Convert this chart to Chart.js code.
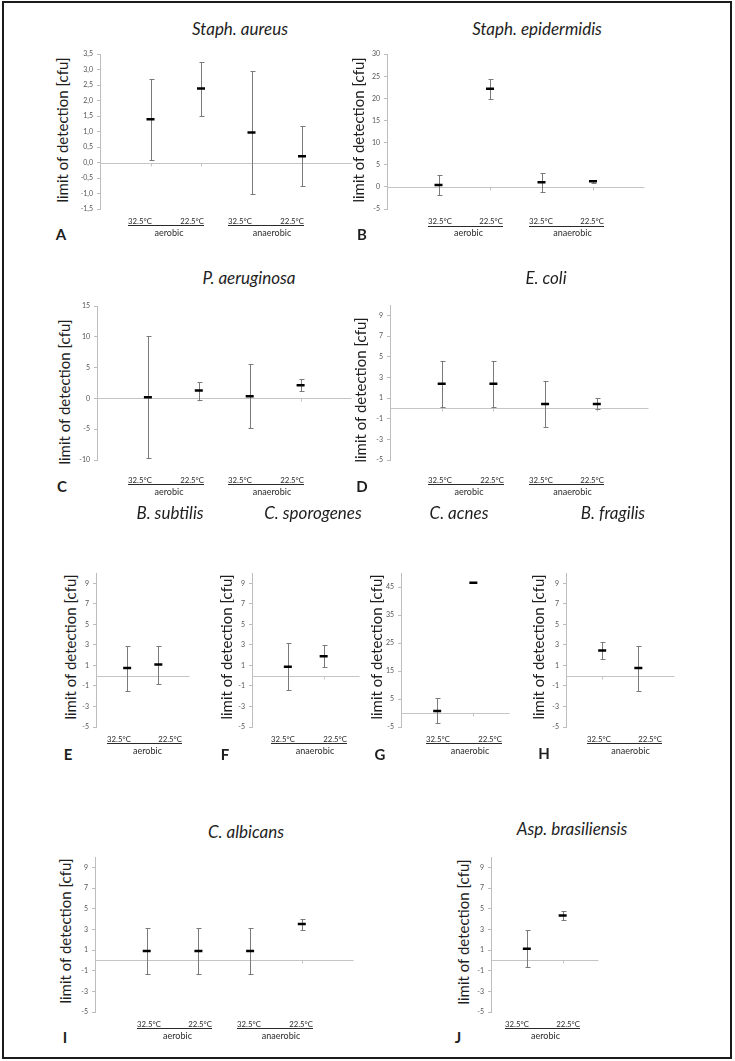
<!DOCTYPE html>
<html>
<head>
<meta charset="utf-8">
<script src="https://cdn.jsdelivr.net/npm/chart.js@4.4.1/dist/chart.umd.min.js"></script>
<style>
  body { margin: 0; background: #fff; }
  #page { position: relative; width: 735px; height: 1061px; background: #fff; overflow: hidden; font-family: Lato, sans-serif; }
  #frame { position: absolute; left: 2px; top: 1px; width: 730px; height: 1058px; border: 2px solid #1b1b1b; box-sizing: border-box; }
  .txt { position: absolute; white-space: nowrap; line-height: 1; transform: translate(-50%, -50%); color: #1e1e1e; }
  .title { font-size: 17px; font-style: italic; }
  .ylab { font-size: 15px; transform: translate(-50%, -50%) rotate(-90deg); }
  .letter { font-size: 15px; font-weight: bold; }
  canvas { position: absolute; }
</style>
</head>
<body>
<div id="page"><div id="frame"></div></div>
<script>
// temperatures and groups
const temps = ['32.5°C', '22.5°C'];

// tick values
const ticksA = [-1.5, -1, -0.5, 0, 0.5, 1, 1.5, 2, 2.5, 3, 3.5];
const ticksB = [-5, 0, 5, 10, 15, 20, 25, 30];
const ticksC = [-10, -5, 0, 5, 10, 15];
const ticksOdd = [-5, -3, -1, 1, 3, 5, 7, 9];
const ticksG = [-5, 5, 15, 25, 35, 45];

// A - Staph. aureus
const aureusMean = [1.4, 2.39, 0.97, 0.2];
const aureusHigh = [2.69, 3.25, 2.97, 1.17];
const aureusLow = [0.08, 1.52, -1.02, -0.75];
// B - Staph. epidermidis
const epiMean = [0.45, 22.2, 1.05, 1.25];
const epiHigh = [2.7, 24.5, 3.25, 1.65];
const epiLow = [-1.8, 19.9, -1.2, 0.9];
// C - P. aeruginosa
const aeruMean = [0.22, 1.3, 0.38, 2.16];
const aeruHigh = [10.15, 2.75, 5.56, 3.13];
const aeruLow = [-9.72, -0.27, -4.8, 1.24];
// D - E. coli
const coliMean = [2.38, 2.38, 0.42, 0.42];
const coliHigh = [4.63, 4.63, 2.67, 1.0];
const coliLow = [0.16, 0.16, -1.8, -0.1];
// E - B. subtilis
const subtMean = [0.75, 1.1];
const subtHigh = [2.92, 2.92];
const subtLow = [-1.52, -0.78];
// F - C. sporogenes
const sporMean = [0.87, 1.91];
const sporHigh = [3.2, 2.98];
const sporLow = [-1.39, 0.81];
// G - C. acnes
const acnesMean = [0.7, 46.6];
const acnesHigh = [5.36, 46.6];
const acnesLow = [-3.7, 46.6];
// H - B. fragilis
const fragMean = [2.46, 0.75];
const fragHigh = [3.3, 2.88];
const fragLow = [1.62, -1.49];
// I - C. albicans
const albiMean = [0.92, 0.92, 0.92, 3.52];
const albiHigh = [3.14, 3.14, 3.14, 4.04];
const albiLow = [-1.34, -1.34, -1.34, 2.95];
// J - Asp. brasiliensis
const aspMean = [1.14, 4.35];
const aspHigh = [2.95, 4.8];
const aspLow = [-0.63, 3.9];

Chart.defaults.font.family = 'Lato, sans-serif';

const page = document.getElementById('page');
const Y_W = 30, PAD_T = 8, PAD_R = 6, X_H = 45;

function addText(text, cls, cx, cy) {
  const d = document.createElement('div');
  d.className = 'txt ' + cls;
  d.textContent = text;
  d.style.left = cx + 'px';
  d.style.top = cy + 'px';
  page.appendChild(d);
}

function makePanel(p) {
  addText(p.title, 'title', p.titleX, p.titleY);
  addText('limit of detection [cfu]', 'ylab', p.ylabX, p.ylabY);
  addText(p.letter, 'letter', p.letterX, p.letterY);

  const left = p.axisX - Y_W;
  const top = p.top - PAD_T;
  const width = p.right - left + PAD_R;
  const height = p.bottom - top + X_H;
  const canvas = document.createElement('canvas');
  canvas.width = width;
  canvas.height = height;
  canvas.style.left = left + 'px';
  canvas.style.top = top + 'px';
  page.appendChild(canvas);

  const decor = {
    id: 'decor' + p.letter,
    beforeDatasetsDraw(chart) {
      const { ctx, chartArea: a, scales: { x, y } } = chart;
      const y0 = Math.round(y.getPixelForValue(0)) + 0.5;
      ctx.save();
      ctx.lineWidth = 1;
      ctx.strokeStyle = '#c4c4c4';
      ctx.beginPath();
      ctx.moveTo(a.left, y0);
      ctx.lineTo(a.right, y0);
      p.mean.forEach((m, i) => {
        const px = Math.round(x.getPixelForValue(i + 1)) + 0.5;
        ctx.moveTo(px, y0);
        ctx.lineTo(px, y0 + 3);
      });
      ctx.stroke();
      // error bars
      ctx.strokeStyle = '#7a7a7a';
      ctx.beginPath();
      p.mean.forEach((m, i) => {
        if (p.high[i] === p.low[i]) return;
        const px = Math.round(x.getPixelForValue(i + 1)) + 0.5;
        const hi = Math.round(y.getPixelForValue(p.high[i])) + 0.5;
        const lo = Math.round(y.getPixelForValue(p.low[i])) + 0.5;
        ctx.moveTo(px, hi); ctx.lineTo(px, lo);
        ctx.moveTo(px - 2, hi); ctx.lineTo(px + 3, hi);
        ctx.moveTo(px - 2, lo); ctx.lineTo(px + 3, lo);
      });
      ctx.stroke();
      ctx.restore();
    },
    afterDraw(chart) {
      const { ctx, chartArea: a } = chart;
      const ly = a.bottom + p.labelDy;
      ctx.save();
      ctx.fillStyle = '#2a2a2a';
      ctx.strokeStyle = '#2a2a2a';
      ctx.lineWidth = 1;
      ctx.textBaseline = 'middle';
      p.groups.forEach(g => {
        const x1 = g.from - left, x2 = g.to - left;
        ctx.font = '7.8px Lato, sans-serif';
        ctx.textAlign = 'left';
        ctx.fillText(temps[0], x1, ly);
        ctx.textAlign = 'right';
        ctx.fillText(temps[1], x2, ly);
        ctx.beginPath();
        ctx.moveTo(x1, Math.round(ly + 4) + 0.5);
        ctx.lineTo(x2, Math.round(ly + 4) + 0.5);
        ctx.stroke();
        ctx.font = '9px Lato, sans-serif';
        ctx.textAlign = 'center';
        ctx.fillText(g.name, (x1 + x2) / 2 + g.dx, ly + 12);
      });
      ctx.restore();
    }
  };

  new Chart(canvas, {
    type: 'scatter',
    data: {
      datasets: [{
        data: p.mean.map((m, i) => ({ x: i + 1, y: m })),
        pointStyle: 'line',
        pointRadius: 4,
        borderWidth: 2.5,
        borderColor: '#000',
        backgroundColor: '#000'
      }]
    },
    options: {
      responsive: false,
      animation: false,
      events: [],
      layout: { padding: { top: PAD_T, right: PAD_R, left: 0, bottom: 0 } },
      plugins: { legend: { display: false }, tooltip: { enabled: false } },
      scales: {
        x: {
          type: 'linear', min: 0, max: p.slots,
          grid: { display: false }, border: { display: false },
          ticks: { display: false },
          afterFit: s => { s.height = X_H; }
        },
        y: {
          min: p.min, max: p.max,
          afterBuildTicks: s => { s.ticks = p.ticks.map(v => ({ value: v })); },
          afterFit: s => { s.width = Y_W; },
          grid: { drawOnChartArea: false, tickLength: 3, color: '#bdbdbd' },
          border: { color: '#bdbdbd', width: 1 },
          ticks: {
            padding: 4, color: '#555', font: { size: 7 },
            callback: v => p.comma ? v.toFixed(1).replace('.', ',') : String(v)
          }
        }
      }
    },
    plugins: [decor]
  });
}

const aer = (from, to) => ({ name: 'aerobic', from, to, dx: 3 });
const ana = (from, to) => ({ name: 'anaerobic', from, to, dx: 6 });

makePanel({ letter: 'A', title: 'Staph. aureus', titleX: 240, titleY: 28, ylabX: 62, ylabY: 130, letterX: 61, letterY: 234,
  axisX: 100, top: 54, bottom: 209, right: 353, slots: 5, min: -1.5, max: 3.5, ticks: ticksA, comma: true, labelDy: 12,
  mean: aureusMean, high: aureusHigh, low: aureusLow, groups: [aer(128, 204), ana(228, 304)] });

makePanel({ letter: 'B', title: 'Staph. epidermidis', titleX: 537, titleY: 28, ylabX: 358, ylabY: 130, letterX: 362, letterY: 234,
  axisX: 387, top: 54, bottom: 209, right: 645, slots: 5, min: -5, max: 30, ticks: ticksB, labelDy: 12.5,
  mean: epiMean, high: epiHigh, low: epiLow, groups: [aer(428, 503), ana(529, 604)] });

makePanel({ letter: 'C', title: 'P. aeruginosa', titleX: 249, titleY: 277, ylabX: 64, ylabY: 392, letterX: 62, letterY: 486,
  axisX: 97, top: 306, bottom: 460, right: 352, slots: 5, min: -10, max: 15, ticks: ticksC, labelDy: 20,
  mean: aeruMean, high: aeruHigh, low: aeruLow, groups: [aer(128, 204), ana(228, 304)] });

makePanel({ letter: 'D', title: 'E. coli', titleX: 546, titleY: 277, ylabX: 360, ylabY: 390, letterX: 362, letterY: 486,
  axisX: 390, top: 305, bottom: 460, right: 649, slots: 5, min: -5, max: 10, ticks: ticksOdd, labelDy: 20,
  mean: coliMean, high: coliHigh, low: coliLow, groups: [aer(428, 504), ana(529, 604)] });

makePanel({ letter: 'E', title: 'B. subtilis', titleX: 170, titleY: 512, ylabX: 70, ylabY: 647, letterX: 68, letterY: 754,
  axisX: 96, top: 573, bottom: 727, right: 190, slots: 3, min: -5, max: 10, ticks: ticksOdd, labelDy: 12,
  mean: subtMean, high: subtHigh, low: subtLow, groups: [aer(107, 182)] });

makePanel({ letter: 'F', title: 'C. sporogenes', titleX: 313, titleY: 512, ylabX: 226, ylabY: 647, letterX: 225, letterY: 754,
  axisX: 252, top: 573, bottom: 727, right: 360, slots: 3, min: -5, max: 10, ticks: ticksOdd, labelDy: 12,
  mean: sporMean, high: sporHigh, low: sporLow, groups: [ana(271, 347)] });

makePanel({ letter: 'G', title: 'C. acnes', titleX: 459, titleY: 512, ylabX: 376, ylabY: 647, letterX: 380, letterY: 754,
  axisX: 401, top: 573, bottom: 727, right: 510, slots: 3, min: -5, max: 50, ticks: ticksG, labelDy: 12,
  mean: acnesMean, high: acnesHigh, low: acnesLow, groups: [ana(426, 502)] });

makePanel({ letter: 'H', title: 'B. fragilis', titleX: 613, titleY: 512, ylabX: 538, ylabY: 647, letterX: 544, letterY: 753,
  axisX: 566, top: 573, bottom: 727, right: 675, slots: 3, min: -5, max: 10, ticks: ticksOdd, labelDy: 12,
  mean: fragMean, high: fragHigh, low: fragLow, groups: [ana(587, 662)] });

makePanel({ letter: 'I', title: 'C. albicans', titleX: 246, titleY: 831, ylabX: 65, ylabY: 931, letterX: 65, letterY: 1037,
  axisX: 95, top: 857, bottom: 1012, right: 354, slots: 5, min: -5, max: 10, ticks: ticksOdd, labelDy: 12,
  mean: albiMean, high: albiHigh, low: albiLow, groups: [aer(137, 212), ana(237, 313)] });

makePanel({ letter: 'J', title: 'Asp. brasiliensis', titleX: 572, titleY: 828, ylabX: 463, ylabY: 932, letterX: 458, letterY: 1037,
  axisX: 491, top: 857, bottom: 1012, right: 599, slots: 3, min: -5, max: 10, ticks: ticksOdd, labelDy: 12,
  mean: aspMean, high: aspHigh, low: aspLow, groups: [aer(505, 580)] });
</script>
</body>
</html>
